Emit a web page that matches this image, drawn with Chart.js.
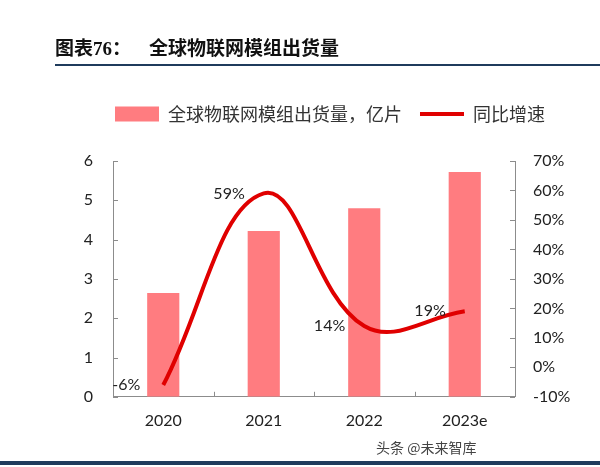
<!DOCTYPE html>
<html>
<head>
<meta charset="utf-8">
<script src="https://cdn.jsdelivr.net/npm/chart.js@4"></script>
<style>
    html, body { margin: 0; padding: 0; background: #fff; }
    #wrap { position: relative; width: 600px; height: 467px; overflow: hidden; }
    #chart { position: absolute; left: 0; top: 0; }
    .title { position: absolute; left: 55px; top: 33px; font: bold 19px 'Liberation Serif', 'Noto Sans CJK SC'; color: #111; white-space: nowrap; }
    .title span { margin-left: 18px; font-family: 'Noto Sans CJK SC'; font-size: 19px; }
    .rule { position: absolute; left: 55px; right: 0; top: 64px; height: 2px; background: #1f3b5c; }
    .bottom-rule { position: absolute; left: 0; right: 0; top: 461px; height: 4px; background: #1f3b5c; }
    .mark { position: absolute; left: 376px; top: 437px; font: 14px 'Noto Sans CJK SC'; color: #444; }
</style>
</head>
<body>
<div id="wrap">
    <canvas id="chart" width="600" height="467"></canvas>
    <div class="title">图表76：<span>全球物联网模组出货量</span></div>
    <div class="rule"></div>
    <div class="mark">头条 @未来智库</div>
    <div class="bottom-rule"></div>
</div>
<script>
const years = ['2020', '2021', '2022', '2023e'];
const shipments = [2.64, 4.22, 4.8, 5.72];   // 亿片
const growth = [-6, 59, 14, 19];              // %

const barLabel = '全球物联网模组出货量，亿片';
const lineLabel = '同比增速';

const numFont = "Lato, 'Noto Sans CJK SC', sans-serif";

// extra space under the legend
const legendGap = {
    id: 'legendGap',
    beforeInit(chart) {
        const fit = chart.legend.fit;
        chart.legend.fit = function () {
            fit.bind(chart.legend)();
            this.height += 28;
        };
    }
};

// inside tick marks on all three axes
const innerTicks = {
    id: 'innerTicks',
    afterDatasetsDraw(chart) {
        const { ctx, chartArea: a, scales } = chart;
        ctx.save();
        ctx.strokeStyle = '#8c8c8c';
        ctx.lineWidth = 1;
        ctx.beginPath();
        scales.y.ticks.forEach(t => {
            const y = Math.round(scales.y.getPixelForValue(t.value)) + 0.5;
            ctx.moveTo(a.left, y); ctx.lineTo(a.left + 5, y);
        });
        scales.y1.ticks.forEach(t => {
            const y = Math.round(scales.y1.getPixelForValue(t.value)) + 0.5;
            ctx.moveTo(a.right - 5, y); ctx.lineTo(a.right, y);
        });
        for (let i = 0; i < years.length - 1; i++) {
            const x = Math.round((scales.x.getPixelForValue(i) + scales.x.getPixelForValue(i + 1)) / 2) + 0.5;
            ctx.moveTo(x, a.bottom); ctx.lineTo(x, a.bottom - 5);
        }
        ctx.stroke();
        ctx.restore();
    }
};

// growth labels to the left of each point
const growthLabels = {
    id: 'growthLabels',
    afterDatasetsDraw(chart) {
        const { ctx } = chart;
        const meta = chart.getDatasetMeta(1);
        ctx.save();
        ctx.font = '16px ' + numFont;
        ctx.fillStyle = '#222';
        ctx.textAlign = 'right';
        ctx.textBaseline = 'middle';
        meta.data.forEach((pt, i) => {
            const dx = i === 0 ? 23 : 19;
            ctx.fillText(growth[i] + '%', pt.x - dx, pt.y);
        });
        ctx.restore();
    }
};

new Chart(document.getElementById('chart'), {
    data: {
        labels: years,
        datasets: [
            {
                type: 'bar',
                label: barLabel,
                data: shipments,
                backgroundColor: '#ff7c80',
                borderWidth: 0,
                barPercentage: 0.32,
                categoryPercentage: 1,
                yAxisID: 'y',
                order: 2
            },
            {
                type: 'line',
                label: lineLabel,
                data: growth,
                borderColor: '#e00000',
                backgroundColor: '#e00000',
                borderWidth: 4,
                tension: 0.4,
                pointRadius: 0,
                yAxisID: 'y1',
                order: 1
            }
        ]
    },
    options: {
        responsive: false,
        animation: false,
        layout: { padding: { left: 60, right: 0, top: 87, bottom: 23 } },
        plugins: {
            tooltip: { enabled: false },
            legend: {
                position: 'top',
                labels: {
                    usePointStyle: true,
                    pointStyleWidth: 44,
                    boxHeight: 15,
                    padding: 18,
                    color: '#333',
                    font: { size: 18, family: "'Noto Sans CJK SC', sans-serif" },
                    generateLabels(chart) {
                        return chart.data.datasets.map((ds, i) => ({
                            text: ds.label,
                            fillStyle: ds.backgroundColor,
                            strokeStyle: ds.type === 'line' ? ds.borderColor : ds.backgroundColor,
                            lineWidth: ds.type === 'line' ? 4 : 0,
                            pointStyle: ds.type === 'line' ? 'line' : 'rect',
                            fontColor: '#333',
                            hidden: false,
                            datasetIndex: i
                        }));
                    }
                }
            }
        },
        scales: {
            x: {
                grid: { display: false, drawTicks: false },
                border: { color: '#8c8c8c', width: 1 },
                ticks: { color: '#222', padding: 14, font: { size: 16, family: numFont } }
            },
            y: {
                position: 'left',
                min: 0, max: 6,
                ticks: { stepSize: 1, color: '#222', padding: 20, font: { size: 16, family: numFont } },
                grid: { display: false, drawTicks: false },
                border: { color: '#8c8c8c', width: 1 },
                afterFit(s) { s.width = 53; }
            },
            y1: {
                position: 'right',
                min: -10, max: 70,
                ticks: {
                    stepSize: 10, color: '#222', padding: 18,
                    font: { size: 16, family: numFont },
                    callback: v => v + '%'
                },
                grid: { display: false, drawTicks: false },
                border: { color: '#8c8c8c', width: 1 },
                afterFit(s) { s.width = 85; }
            }
        }
    },
    plugins: [legendGap, innerTicks, growthLabels]
});
</script>
</body>
</html>
